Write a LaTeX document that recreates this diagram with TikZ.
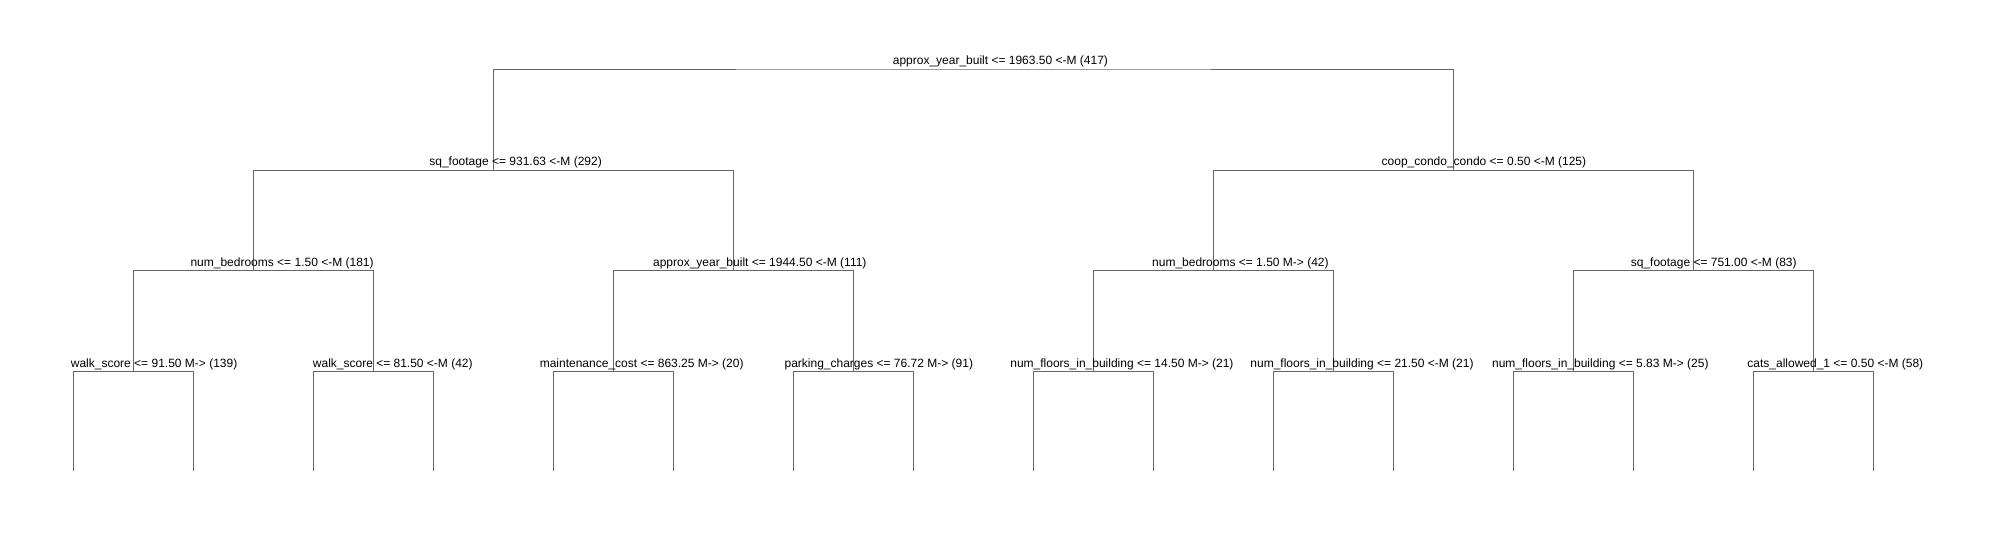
\documentclass[tikz,border=0pt]{standalone}
\usepackage{fontspec}
\setmainfont{Liberation Sans}
\usepackage{tikz}
\usetikzlibrary{positioning}
\usepackage{xcolor}
\definecolor{edgegray}{RGB}{102,102,102}
\tikzset{
  split/.style={anchor=base, inner sep=0pt, outer sep=0pt, font=\fontsize{12}{14}\selectfont},
  branch/.style={draw=edgegray, line width=0.9pt}
}

\begin{document}
\begin{tikzpicture}[x=1pt,y=-1pt]
\useasboundingbox (0,0) rectangle (1993,540);
% split points of the tree
\coordinate (n0) at (973.5,69);
\coordinate (n1) at (493.5,170.2);
\coordinate (n2) at (1453.5,170.2);
\coordinate (n3) at (253.5,270.8);
\coordinate (n4) at (733.5,270.8);
\coordinate (n5) at (1213.5,270.8);
\coordinate (n6) at (1693.5,270.8);
\coordinate (n7) at (133.5,371.5);
\coordinate (n8) at (373.5,371.5);
\coordinate (n9) at (613.5,371.5);
\coordinate (n10) at (853.5,371.5);
\coordinate (n11) at (1093.5,371.5);
\coordinate (n12) at (1333.5,371.5);
\coordinate (n13) at (1573.5,371.5);
\coordinate (n14) at (1813.5,371.5);
% open ends at the bottom
\coordinate (e1) at (73.5,470.5);
\coordinate (e2) at (193.5,470.5);
\coordinate (e3) at (313.5,470.5);
\coordinate (e4) at (433.5,470.5);
\coordinate (e5) at (553.5,470.5);
\coordinate (e6) at (673.5,470.5);
\coordinate (e7) at (793.5,470.5);
\coordinate (e8) at (913.5,470.5);
\coordinate (e9) at (1033.5,470.5);
\coordinate (e10) at (1153.5,470.5);
\coordinate (e11) at (1273.5,470.5);
\coordinate (e12) at (1393.5,470.5);
\coordinate (e13) at (1513.5,470.5);
\coordinate (e14) at (1633.5,470.5);
\coordinate (e15) at (1753.5,470.5);
\coordinate (e16) at (1873.5,470.5);
% branches
\draw[branch] (n1) |- (n0) -| (n2);
\draw[branch] (n3) |- (n1) -| (n4);
\draw[branch] (n5) |- (n2) -| (n6);
\draw[branch] (n7) |- (n3) -| (n8);
\draw[branch] (n9) |- (n4) -| (n10);
\draw[branch] (n11) |- (n5) -| (n12);
\draw[branch] (n13) |- (n6) -| (n14);
\draw[branch] (e1) |- (n7) -| (e2);
\draw[branch] (e3) |- (n8) -| (e4);
\draw[branch] (e5) |- (n9) -| (e6);
\draw[branch] (e7) |- (n10) -| (e8);
\draw[branch] (e9) |- (n11) -| (e10);
\draw[branch] (e11) |- (n12) -| (e12);
\draw[branch] (e13) |- (n13) -| (e14);
\draw[branch] (e15) |- (n14) -| (e16);
% split labels
\node[split] (t0) at (1000.4,64.5) {approx\_year\_built <= 1963.50 <-M (417)};
\node[split] (t1) at (515.6,165.7) {sq\_footage <= 931.63 <-M (292)};
\node[split] (t2) at (1483.9,165.7) {coop\_condo\_condo <= 0.50 <-M (125)};
\node[split] (t3) at (282.1,266.3) {num\_bedrooms <= 1.50 <-M (181)};
\node[split] (t4) at (759.8,266.3) {approx\_year\_built <= 1944.50 <-M (111)};
\node[split] (t5) at (1240.4,266.3) {num\_bedrooms <= 1.50 M-> (42)};
\node[split] (t6) at (1713.7,266.3) {sq\_footage <= 751.00 <-M (83)};
\node[split] (t7) at (154.1,367) {walk\_score <= 91.50 M-> (139)};
\node[split] (t8) at (392.8,367) {walk\_score <= 81.50 <-M (42)};
\node[split] (t9) at (641.7,367) {maintenance\_cost <= 863.25 M-> (20)};
\node[split] (t10) at (878.8,367) {parking\_charges <= 76.72 M-> (91)};
\node[split] (t11) at (1121.9,367) {num\_floors\_in\_building <= 14.50 M-> (21)};
\node[split] (t12) at (1362,367) {num\_floors\_in\_building <= 21.50 <-M (21)};
\node[split] (t13) at (1600.3,367) {num\_floors\_in\_building <= 5.83 M-> (25)};
\node[split] (t14) at (1835.3,367) {cats\_allowed\_1 <= 0.50 <-M (58)};
\end{tikzpicture}
\end{document}
